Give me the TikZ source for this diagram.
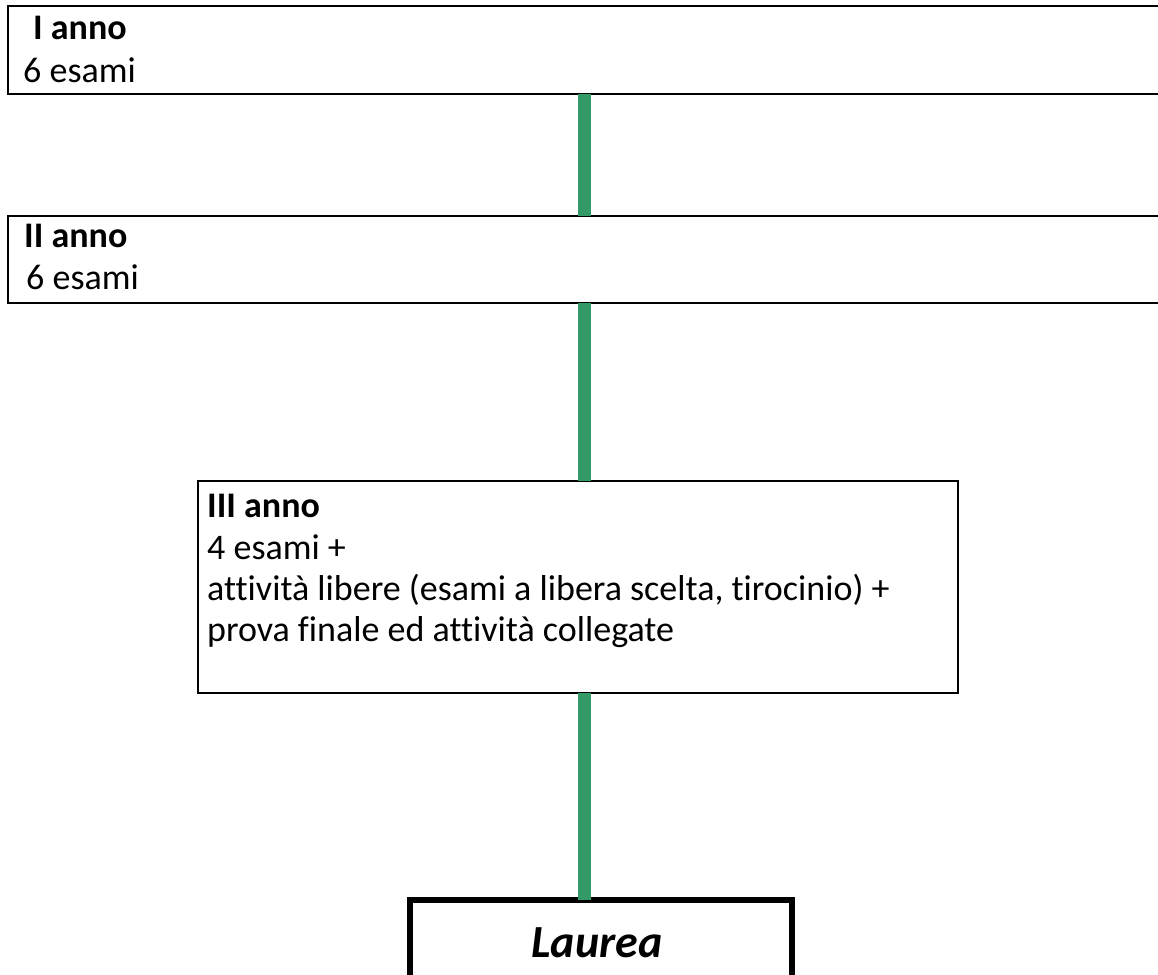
\documentclass[tikz,border=0pt]{standalone}
\usepackage{fontspec}
\setmainfont[Ligatures=NoCommon]{Carlito}
\definecolor{linkgreen}{HTML}{339966}
\begin{document}
\begin{tikzpicture}[x=1pt,y=-1pt,
  yearbox/.style={draw=black,line width=2pt,fill=white,inner sep=0pt,outer sep=0pt,anchor=north west},
  endbox/.style={draw=black,line width=6pt,fill=white,inner sep=0pt,outer sep=0pt,anchor=north west},
  txt/.style={anchor=base west,inner sep=0pt,font=\fontsize{36}{43}\selectfont},
  btxt/.style={txt,font=\fontsize{36}{43}\selectfont\bfseries},
  link/.style={draw=linkgreen,line width=13pt}]
\useasboundingbox (0,0) rectangle (1158,974);
\clip (0,0) rectangle (1158,974);
\coordinate (lx) at (584.5,0);
% boxes
\node[yearbox,minimum width=1180pt,minimum height=87pt] (b1) at (7.5,6.5) {};
\node[yearbox,minimum width=1180pt,minimum height=87pt] (b2) at (7.5,215.5) {};
\node[yearbox,minimum width=760pt,minimum height=212pt] (b3) at (197.5,480.5) {};
\node[endbox,minimum width=382pt,minimum height=120pt] (b4) at (410,900) {};
% connectors
\draw[link] (b1.south -| lx) -- (b2.north -| lx);
\draw[link] (b2.south -| lx) -- (b3.north -| lx);
\draw[link] (b3.south -| lx) -- (b4.north -| lx);
% texts
\node[btxt] (t1a) at (33,40) {I anno};
\node[txt] (t1b) at (23,82) {6 esami};
\node[btxt] (t2a) at (24,247) {II anno};
\node[txt] (t2b) at (26,289) {6 esami};
\node[btxt] (t3a) at (207,517) {III anno};
\node[txt] (t3b) at (207,559) {4 esami +};
\node[txt] (t3c) at (207,600) {attività libere (esami a libera scelta, tirocinio) +};
\node[txt] (t3d) at (207,641) {prova finale ed attività collegate};
\node[anchor=base,inner sep=0pt,font=\fontsize{46}{55}\selectfont\bfseries\itshape] (t4) at (597,957) {Laurea};
\end{tikzpicture}
\end{document}
